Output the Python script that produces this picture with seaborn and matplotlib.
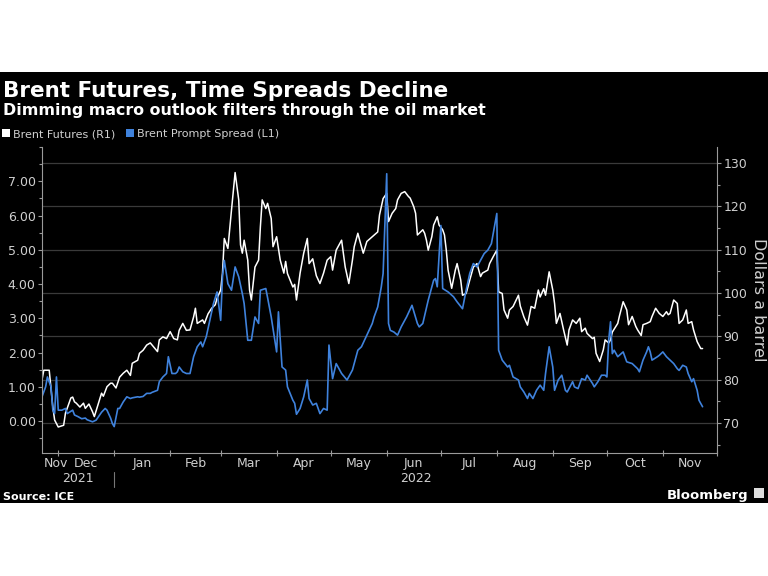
import matplotlib
matplotlib.use("Agg")
import matplotlib.pyplot as plt
import matplotlib.dates as mdates
import matplotlib.ticker as mticker
from matplotlib.patches import Rectangle, Patch
from matplotlib.lines import Line2D
import matplotlib.transforms as mtrans
import pandas as pd
import seaborn as sns

# ---------------- data ----------------
brent_dates = [
    "2021-11-22", "2021-11-23", "2021-11-26", "2021-11-28", "2021-11-29", "2021-12-01", "2021-12-04",
    "2021-12-05", "2021-12-08", "2021-12-09", "2021-12-10", "2021-12-11", "2021-12-13", "2021-12-15",
    "2021-12-16", "2021-12-18", "2021-12-20", "2021-12-21", "2021-12-23", "2021-12-25", "2021-12-26",
    "2021-12-28", "2021-12-30", "2021-12-31", "2022-01-02", "2022-01-04", "2022-01-06", "2022-01-08",
    "2022-01-10", "2022-01-11", "2022-01-14", "2022-01-15", "2022-01-17", "2022-01-19", "2022-01-21",
    "2022-01-22", "2022-01-25", "2022-01-26", "2022-01-28", "2022-01-30", "2022-02-01", "2022-02-03",
    "2022-02-05", "2022-02-06", "2022-02-08", "2022-02-10", "2022-02-12", "2022-02-14", "2022-02-15",
    "2022-02-16", "2022-02-19", "2022-02-20", "2022-02-22", "2022-02-24", "2022-02-26", "2022-02-27",
    "2022-03-01", "2022-03-02", "2022-03-03", "2022-03-05", "2022-03-07", "2022-03-09", "2022-03-11",
    "2022-03-12", "2022-03-13", "2022-03-14", "2022-03-16", "2022-03-17", "2022-03-18", "2022-03-20",
    "2022-03-22", "2022-03-23", "2022-03-24", "2022-03-26", "2022-03-27", "2022-03-29", "2022-03-30",
    "2022-04-01", "2022-04-03", "2022-04-05", "2022-04-06", "2022-04-07", "2022-04-10", "2022-04-11",
    "2022-04-12", "2022-04-14", "2022-04-16", "2022-04-18", "2022-04-19", "2022-04-21", "2022-04-23",
    "2022-04-25", "2022-04-27", "2022-04-29", "2022-05-01", "2022-05-02", "2022-05-04", "2022-05-07",
    "2022-05-09", "2022-05-11", "2022-05-13", "2022-05-14", "2022-05-16", "2022-05-17", "2022-05-19",
    "2022-05-21", "2022-05-24", "2022-05-27", "2022-05-28", "2022-05-30", "2022-06-01", "2022-06-02",
    "2022-06-04", "2022-06-06", "2022-06-07", "2022-06-09", "2022-06-11", "2022-06-13", "2022-06-14",
    "2022-06-16", "2022-06-17", "2022-06-18", "2022-06-21", "2022-06-22", "2022-06-23", "2022-06-24",
    "2022-06-26", "2022-06-27", "2022-06-29", "2022-06-30", "2022-07-02", "2022-07-03", "2022-07-04",
    "2022-07-05", "2022-07-07", "2022-07-09", "2022-07-10", "2022-07-12", "2022-07-13", "2022-07-15",
    "2022-07-17", "2022-07-19", "2022-07-21", "2022-07-23", "2022-07-24", "2022-07-27", "2022-07-28",
    "2022-07-30", "2022-08-01", "2022-08-02", "2022-08-04", "2022-08-05", "2022-08-07", "2022-08-08",
    "2022-08-10", "2022-08-13", "2022-08-14", "2022-08-16", "2022-08-18", "2022-08-20", "2022-08-22",
    "2022-08-24", "2022-08-25", "2022-08-27", "2022-08-28", "2022-08-30", "2022-09-01", "2022-09-02",
    "2022-09-03", "2022-09-05", "2022-09-07", "2022-09-09", "2022-09-10", "2022-09-12", "2022-09-14",
    "2022-09-16", "2022-09-17", "2022-09-19", "2022-09-20", "2022-09-23", "2022-09-24", "2022-09-25",
    "2022-09-27", "2022-09-29", "2022-09-30", "2022-10-02", "2022-10-03", "2022-10-04", "2022-10-07",
    "2022-10-08", "2022-10-10", "2022-10-12", "2022-10-13", "2022-10-15", "2022-10-17", "2022-10-18",
    "2022-10-20", "2022-10-21", "2022-10-23", "2022-10-25", "2022-10-26", "2022-10-28", "2022-10-30",
    "2022-11-01", "2022-11-03", "2022-11-04", "2022-11-05", "2022-11-07", "2022-11-09", "2022-11-10",
    "2022-11-12", "2022-11-14", "2022-11-15", "2022-11-17", "2022-11-18", "2022-11-20", "2022-11-22",
    "2022-11-23",
]
brent_values = [
    80.0, 82.2, 82.2, 73.7, 70.7, 69.1, 69.5,
    72.3, 75.8, 76.0, 74.9, 74.6, 73.7, 74.6,
    73.4, 74.4, 72.6, 71.5, 74.2, 76.9, 76.2,
    78.4, 79.2, 79.2, 78.1, 80.6, 81.5, 82.2,
    81.0, 83.8, 84.5, 86.1, 86.8, 88.0, 88.5,
    88.0, 86.5, 89.2, 89.9, 89.5, 91.1, 89.5,
    89.2, 91.4, 93.0, 91.4, 91.5, 94.5, 96.5,
    93.0, 93.8, 93.0, 95.2, 96.5, 97.3, 98.8,
    100.7, 104.6, 112.6, 110.3, 119.2, 127.8, 121.5,
    111.1, 109.2, 112.2, 107.6, 100.7, 98.4, 106.0,
    107.6, 115.3, 121.5, 119.5, 120.7, 117.2, 110.7,
    113.0, 107.6, 104.6, 107.3, 104.5, 101.4, 102.0,
    98.4, 104.6, 109.2, 112.6, 106.8, 107.9, 104.0,
    102.2, 104.6, 107.6, 108.4, 105.3, 109.9, 112.2,
    106.0, 102.2, 107.6, 110.7, 113.8, 112.2, 109.2,
    111.9, 113.0, 114.1, 118.0, 121.8, 123.0, 116.5,
    118.4, 119.5, 121.5, 123.0, 123.4, 122.3, 121.9,
    119.9, 118.4, 113.4, 114.6, 113.8, 112.2, 109.9,
    113.0, 115.7, 117.6, 115.7, 114.6, 113.4, 109.9,
    105.3, 101.1, 105.3, 106.8, 103.0, 99.5, 99.9,
    103.0, 106.0, 106.8, 103.8, 104.6, 105.3, 106.8,
    108.4, 109.9, 100.3, 99.9, 96.1, 94.2, 96.1,
    96.9, 99.5, 97.0, 94.5, 92.6, 96.9, 96.5,
    100.7, 99.1, 101.0, 99.5, 104.9, 100.7, 97.6,
    93.0, 95.3, 91.5, 88.0, 91.5, 93.8, 93.0,
    94.2, 91.1, 91.9, 90.7, 89.5, 89.8, 86.1,
    84.2, 86.9, 89.2, 88.5, 89.2, 91.0, 93.0,
    94.8, 98.0, 96.1, 92.7, 94.6, 92.3, 91.5,
    90.2, 92.7, 93.0, 93.4, 94.6, 96.5, 95.3,
    94.6, 95.7, 95.0, 95.3, 98.4, 97.6, 93.0,
    93.8, 96.1, 93.0, 93.4, 91.5, 88.8, 87.2,
    87.2,
]

spread_dates = [
    "2021-11-22", "2021-11-24", "2021-11-25", "2021-11-27", "2021-11-28", "2021-11-29", "2021-11-30",
    "2021-12-01", "2021-12-03", "2021-12-05", "2021-12-06", "2021-12-09", "2021-12-10", "2021-12-12",
    "2021-12-14", "2021-12-16", "2021-12-17", "2021-12-20", "2021-12-22", "2021-12-24", "2021-12-25",
    "2021-12-27", "2021-12-28", "2021-12-30", "2021-12-31", "2022-01-01", "2022-01-03", "2022-01-04",
    "2022-01-06", "2022-01-08", "2022-01-10", "2022-01-11", "2022-01-14", "2022-01-15", "2022-01-17",
    "2022-01-19", "2022-01-21", "2022-01-22", "2022-01-25", "2022-01-26", "2022-01-28", "2022-01-30",
    "2022-01-31", "2022-02-02", "2022-02-04", "2022-02-05", "2022-02-06", "2022-02-08", "2022-02-10",
    "2022-02-12", "2022-02-14", "2022-02-16", "2022-02-18", "2022-02-19", "2022-02-21", "2022-02-23",
    "2022-02-25", "2022-02-27", "2022-03-01", "2022-03-02", "2022-03-03", "2022-03-05", "2022-03-07",
    "2022-03-09", "2022-03-11", "2022-03-13", "2022-03-14", "2022-03-16", "2022-03-18", "2022-03-20",
    "2022-03-22", "2022-03-23", "2022-03-26", "2022-03-27", "2022-03-29", "2022-04-01", "2022-04-02",
    "2022-04-04", "2022-04-06", "2022-04-07", "2022-04-10", "2022-04-11", "2022-04-12", "2022-04-14",
    "2022-04-16", "2022-04-18", "2022-04-19", "2022-04-21", "2022-04-23", "2022-04-25", "2022-04-27",
    "2022-04-29", "2022-04-30", "2022-05-02", "2022-05-04", "2022-05-07", "2022-05-10", "2022-05-13",
    "2022-05-16", "2022-05-18", "2022-05-21", "2022-05-24", "2022-05-25", "2022-05-27", "2022-05-29",
    "2022-05-30", "2022-06-01", "2022-06-02", "2022-06-03", "2022-06-05", "2022-06-07", "2022-06-09",
    "2022-06-12", "2022-06-15", "2022-06-18", "2022-06-19", "2022-06-21", "2022-06-24", "2022-06-27",
    "2022-06-28", "2022-06-29", "2022-07-01", "2022-07-02", "2022-07-05", "2022-07-08", "2022-07-10",
    "2022-07-13", "2022-07-15", "2022-07-17", "2022-07-19", "2022-07-21", "2022-07-24", "2022-07-25",
    "2022-07-27", "2022-07-29", "2022-08-01", "2022-08-02", "2022-08-04", "2022-08-07", "2022-08-08",
    "2022-08-10", "2022-08-13", "2022-08-14", "2022-08-16", "2022-08-18", "2022-08-19", "2022-08-21",
    "2022-08-23", "2022-08-25", "2022-08-27", "2022-08-28", "2022-08-30", "2022-09-01", "2022-09-02",
    "2022-09-04", "2022-09-06", "2022-09-08", "2022-09-09", "2022-09-12", "2022-09-13", "2022-09-15",
    "2022-09-17", "2022-09-19", "2022-09-20", "2022-09-23", "2022-09-24", "2022-09-26", "2022-09-28",
    "2022-09-30", "2022-10-01", "2022-10-02", "2022-10-03", "2022-10-04", "2022-10-05", "2022-10-07",
    "2022-10-10", "2022-10-12", "2022-10-15", "2022-10-18", "2022-10-19", "2022-10-21", "2022-10-23",
    "2022-10-24", "2022-10-25", "2022-10-26", "2022-10-29", "2022-10-30", "2022-11-01", "2022-11-03",
    "2022-11-05", "2022-11-07", "2022-11-09", "2022-11-10", "2022-11-12", "2022-11-14", "2022-11-15",
    "2022-11-17", "2022-11-18", "2022-11-20", "2022-11-21", "2022-11-23",
]
spread_values = [
    0.71, 1.00, 1.29, 1.00, 0.32, 0.22, 1.29,
    0.32, 0.32, 0.37, 0.22, 0.32, 0.18, 0.13,
    0.07, 0.09, 0.04, -0.02, 0.03, 0.18, 0.26,
    0.37, 0.32, 0.09, -0.07, -0.16, 0.37, 0.37,
    0.56, 0.71, 0.66, 0.68, 0.71, 0.70, 0.72,
    0.81, 0.81, 0.84, 0.90, 1.15, 1.29, 1.39,
    1.88, 1.39, 1.39, 1.44, 1.58, 1.44, 1.39,
    1.39, 1.88, 2.17, 2.31, 2.17, 2.46, 2.94,
    3.43, 3.77, 2.94, 4.21, 4.69, 4.01, 3.82,
    4.50, 4.21, 3.72, 3.43, 2.36, 2.36, 3.04,
    2.85, 3.82, 3.87, 3.60, 3.04, 2.02, 3.19,
    1.58, 1.49, 1.00, 0.61, 0.52, 0.20, 0.37,
    0.71, 1.20, 0.66, 0.47, 0.52, 0.22, 0.37,
    0.32, 2.22, 1.24, 1.68, 1.39, 1.20, 1.49,
    2.07, 2.17, 2.51, 2.85, 3.04, 3.33, 3.92,
    4.31, 7.22, 2.85, 2.65, 2.60, 2.51, 2.75,
    3.04, 3.38, 2.85, 2.75, 2.85, 3.53, 4.11,
    4.16, 3.92, 5.71, 3.87, 3.77, 3.63, 3.48,
    3.28, 3.82, 4.31, 4.60, 4.50, 4.79, 4.89,
    4.99, 5.18, 6.06, 2.07, 1.78, 1.58, 1.63,
    1.29, 1.20, 1.00, 0.85, 0.66, 0.81, 0.66,
    0.90, 1.05, 0.90, 1.39, 2.17, 1.58, 0.90,
    1.20, 1.34, 0.90, 0.85, 1.15, 1.00, 0.95,
    1.24, 1.20, 1.34, 1.10, 1.00, 1.15, 1.34,
    1.34, 1.29, 2.36, 2.90, 1.97, 2.07, 1.88,
    2.02, 1.73, 1.68, 1.53, 1.44, 1.78, 2.02,
    2.17, 2.02, 1.78, 1.88, 1.92, 2.02, 1.88,
    1.78, 1.68, 1.53, 1.48, 1.63, 1.58, 1.39,
    1.15, 1.24, 0.90, 0.61, 0.42,
]

left_ticks = [0, 1, 2, 3, 4, 5, 6, 7]
right_ticks = [70, 80, 90, 100, 110, 120, 130]
x_start, x_end = "2021-11-22", "2022-12-01"

title = "Brent Futures, Time Spreads Decline"
subtitle = "Dimming macro outlook filters through the oil market"
series_names = ["Brent Futures (R1)", "Brent Prompt Spread (L1)"]
right_label = "Dollars a barrel"
source = "Source: ICE"

# ---------------- style ----------------
WHITE = "#ffffff"
BLUE = "#3f82dc"
GRID = "#3a3a3a"
TXT = "#cfcfcf"
SPINE = "#9a9a9a"

sns.set_style("dark")
plt.rcParams["font.family"] = ["DejaVu Sans"]

brent = pd.DataFrame({"date": pd.to_datetime(brent_dates), "value": brent_values})
spread = pd.DataFrame({"date": pd.to_datetime(spread_dates), "value": spread_values})

fig = plt.figure(figsize=(7.68, 5.76), dpi=100, facecolor="white")
fig.patches.append(Rectangle((0, 1 - 503 / 576), 1, (503 - 72) / 576,
                             transform=fig.transFigure, facecolor="black",
                             edgecolor="none", zorder=-10))

ax = fig.add_axes([42 / 768, 1 - 453 / 576, (717 - 42) / 768, (453 - 147) / 576])
ax2 = ax.twinx()
ax2.set_zorder(1)
ax.set_zorder(2)
ax.patch.set_visible(False)
ax2.set_facecolor("black")

sns.lineplot(data=brent, x="date", y="value", ax=ax2, color=WHITE, lw=1.1, legend=False)
sns.lineplot(data=spread, x="date", y="value", ax=ax, color=BLUE, lw=1.2, legend=False)

xmin, xmax = pd.Timestamp(x_start), pd.Timestamp(x_end)
ax.set_xlim(xmin, xmax)
ax.set_ylim(-0.93, 8.0)
ax2.set_ylim(63.1, 133.7)

for a in (ax, ax2):
    a.set_xlabel("")
    a.set_ylabel("")
    for s in a.spines.values():
        s.set_visible(False)

# spines
ax.spines["left"].set_visible(True)
ax.spines["left"].set_color(SPINE)
ax.spines["left"].set_linewidth(0.8)
ax.spines["bottom"].set_visible(True)
ax.spines["bottom"].set_color(SPINE)
ax.spines["bottom"].set_linewidth(0.8)
ax2.spines["right"].set_visible(True)
ax2.spines["right"].set_color(SPINE)
ax2.spines["right"].set_linewidth(0.8)

# y ticks
ax.yaxis.set_major_locator(mticker.FixedLocator(left_ticks))
ax.yaxis.set_minor_locator(mticker.MultipleLocator(0.5))
ax.yaxis.set_major_formatter(mticker.FormatStrFormatter("%.2f"))
ax.tick_params(axis="y", which="major", length=3, width=0.8, color=SPINE,
               labelcolor=TXT, labelsize=9, pad=1.5, left=True)
ax.tick_params(axis="y", which="minor", length=2, width=0.8, color=SPINE, left=True)

ax2.yaxis.set_major_locator(mticker.FixedLocator(right_ticks))
ax2.yaxis.set_minor_locator(mticker.MultipleLocator(5))
ax2.tick_params(axis="y", which="major", length=3, width=0.8, color=SPINE,
                labelcolor=TXT, labelsize=9, pad=1.5, right=True, labelright=True)
ax2.tick_params(axis="y", which="minor", length=2, width=0.8, color=SPINE, right=True)

# grid (on the right/price axis)
ax2.grid(False)
ax.grid(False)
ax2.yaxis.grid(True, which="major", color=GRID, lw=0.9)
ax2.xaxis.set_major_locator(mdates.MonthLocator())
ax2.xaxis.grid(True, which="major", color=GRID, lw=0.9)
ax2.tick_params(axis="x", which="both", bottom=False, labelbottom=False)

# x ticks: month boundaries as ticks, labels centred in months
ax.xaxis.set_major_locator(mdates.MonthLocator())
ax.xaxis.set_major_formatter(mticker.NullFormatter())
ax.tick_params(axis="x", which="major", direction="inout", length=5, width=0.8,
               color=SPINE, bottom=True)
month_starts = pd.date_range("2021-11-01", "2022-12-01", freq="MS")
centers, labels = [], []
for s, e in zip(month_starts[:-1], month_starts[1:]):
    lo, hi = max(s, xmin), min(e, xmax)
    c = lo + (hi - lo) / 2
    if s < xmin:
        # keep the clipped first label from crowding the left spine
        c = c + pd.Timedelta(days=3)
    centers.append(c)
    labels.append(s.strftime("%b"))
ax.xaxis.set_minor_locator(mticker.FixedLocator(mdates.date2num(centers)))
ax.xaxis.set_minor_formatter(mticker.FixedFormatter(labels))
ax.tick_params(axis="x", which="minor", length=0, labelcolor=TXT, labelsize=9, pad=3)

# year labels and separator
trans = mtrans.blended_transform_factory(ax.transData, ax.transAxes)
y21 = xmin + (pd.Timestamp("2022-01-01") - xmin) / 2
y22 = pd.Timestamp("2022-01-01") + (xmax - pd.Timestamp("2022-01-01")) / 2
ax.text(y21, -0.082, "2021", transform=trans, ha="center", va="center",
        color=TXT, fontsize=9)
ax.text(y22, -0.082, "2022", transform=trans, ha="center", va="center",
        color=TXT, fontsize=9)
ax.add_line(Line2D([pd.Timestamp("2022-01-01")] * 2, [-0.062, -0.111],
                   transform=trans, color="#777777", lw=0.8, clip_on=False))

# titles
fig.text(3 / 768, 1 - 97 / 576, title, color="white", fontsize=15.5,
         fontweight="bold", ha="left", va="baseline")
fig.text(3 / 768, 1 - 115 / 576, subtitle, color="white", fontsize=11.4,
         fontweight="bold", ha="left", va="baseline")

# legend
handles = [Patch(facecolor=WHITE, edgecolor="none"), Patch(facecolor=BLUE, edgecolor="none")]
leg = fig.legend(handles, series_names, loc="upper left",
                 bbox_to_anchor=(0 / 768, 1 - 127 / 576), ncol=2, frameon=False,
                 fontsize=8, handlelength=0.7, handleheight=0.7, handletextpad=0.25,
                 columnspacing=1.0, borderaxespad=0, borderpad=0.2)
for t in leg.get_texts():
    t.set_color(TXT)

fig.text(758 / 768, 1 - 300 / 576, right_label, color=TXT, fontsize=11.5,
         rotation=270, ha="center", va="center")

fig.text(3 / 768, 1 - 500 / 576, source, color="white", fontsize=8,
         fontweight="bold", ha="left", va="baseline")
fig.text(748 / 768, 1 - 499 / 576, "Bloomberg", color="white", fontsize=9.5,
         fontweight="bold", ha="right", va="baseline")
fig.patches.append(Rectangle((754 / 768, 1 - 498 / 576), 10 / 768, 10 / 576,
                             transform=fig.transFigure, facecolor="#dddddd",
                             edgecolor="none", zorder=3))

fig.savefig("out.png", dpi=100, facecolor="white")
